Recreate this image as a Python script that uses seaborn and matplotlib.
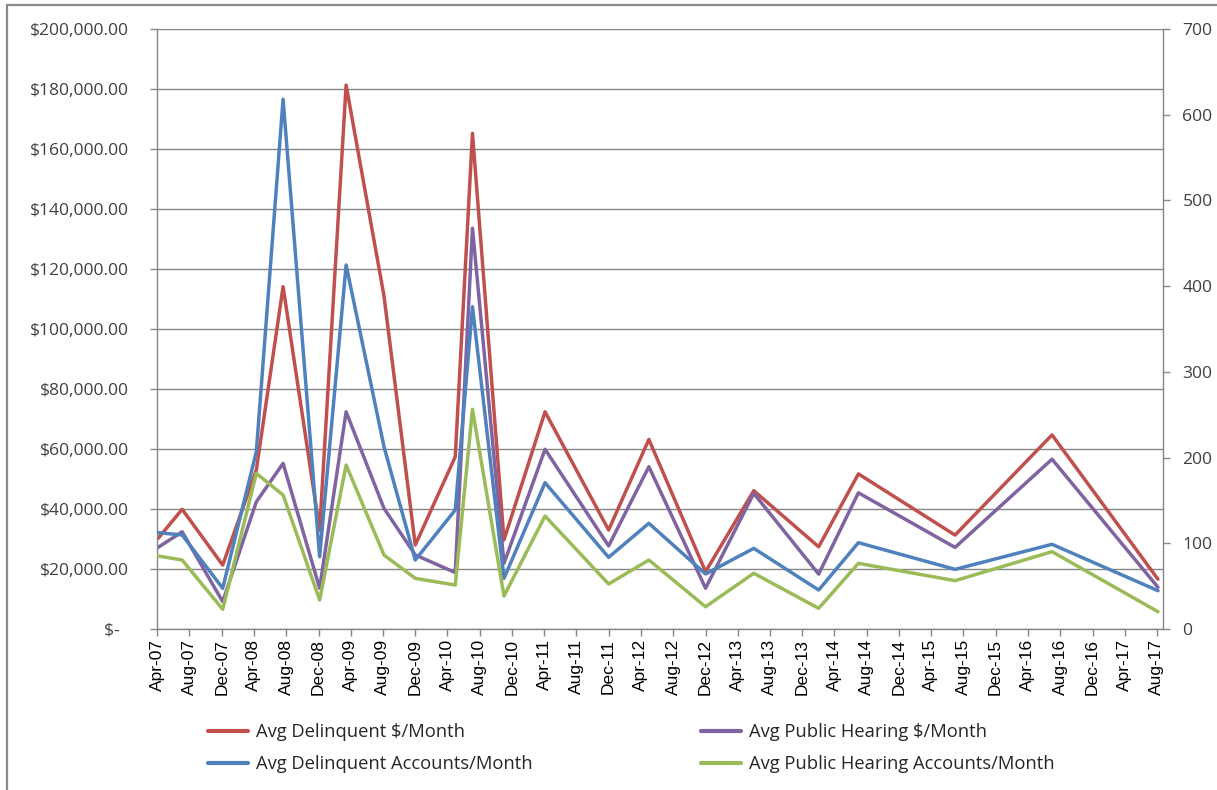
import pandas as pd
import seaborn as sns
import matplotlib.pyplot as plt
import matplotlib.dates as mdates
from matplotlib.ticker import FuncFormatter, MultipleLocator
from matplotlib.lines import Line2D

# --- data ---
dates_str = ["2007-04-05", "2007-07-05", "2007-12-05", "2008-04-10", "2008-07-20",
             "2008-12-05", "2009-03-15", "2009-08-05", "2009-12-01", "2010-05-01",
             "2010-07-05", "2010-11-01", "2011-04-05", "2011-12-01", "2012-05-01",
             "2012-12-01", "2013-06-01", "2014-02-01", "2014-07-01", "2015-07-01",
             "2016-07-01", "2017-08-05"]

# left axis ($)
delinquent_dollars = [30200, 39900, 21300, 53000, 114100, 33000, 181300,
                      111000, 28000, 57400, 165200, 29700, 72400, 33000,
                      63200, 19100, 46100, 27400, 51700, 31300, 64700, 16600]
hearing_dollars = [27200, 32400, 9100, 42400, 55200, 13600, 72400, 40200,
                   24700, 18800, 133600, 21900, 59900, 27700, 54100, 13600,
                   45200, 18300, 45400, 27200, 56600, 13900]

# right axis (accounts)
delinquent_accounts = [112.4, 109.7, 47.5, 206.8, 618, 84.4, 424.7, 212.7,
                       80.5, 138.8, 376, 59.1, 170.7, 83.6, 123.3, 64.2, 94.1,
                       45.5, 100.7, 69.6, 98.8, 44.7]
hearing_accounts = [85.2, 80.5, 23.0, 181.6, 156.3, 33.8, 191.3, 86.3, 59.1,
                    51.3, 256.3, 38.5, 131.8, 52.5, 80.5, 26.0, 65.0, 24.1,
                    76.6, 56.4, 90.2, 20.2]

labels = ["Avg Delinquent $/Month", "Avg Public Hearing $/Month",
          "Avg Delinquent Accounts/Month", "Avg Public Hearing Accounts/Month"]
colors = ["#C0504D", "#8064A2", "#4F81BD", "#9BBB59"]

dates = pd.to_datetime(dates_str)

sns.set_theme(style="white")
plt.rcParams['font.family'] = ['Open Sans', 'DejaVu Sans']

GRAY = "#868686"
TXT = "#404040"
LW = 2.5

fig = plt.figure(figsize=(12.17, 7.90), dpi=100)
ax = fig.add_axes([157 / 1217, 1 - 629 / 790, (1163 - 157) / 1217, 600 / 790])
ax2 = ax.twinx()

sns.lineplot(x=dates, y=delinquent_dollars, ax=ax, color=colors[0], linewidth=LW, label=labels[0], legend=False)
sns.lineplot(x=dates, y=hearing_dollars, ax=ax, color=colors[1], linewidth=LW, label=labels[1], legend=False)
sns.lineplot(x=dates, y=delinquent_accounts, ax=ax2, color=colors[2], linewidth=LW, label=labels[2], legend=False)
sns.lineplot(x=dates, y=hearing_accounts, ax=ax2, color=colors[3], linewidth=LW, label=labels[3], legend=False)

# x axis: Excel-style date axis, tick every 4 months
ax.set_xlim(pd.Timestamp("2007-04-01"), pd.Timestamp("2017-08-24"))
ax.xaxis.set_major_locator(mdates.MonthLocator(bymonth=[4, 8, 12], bymonthday=1))
ax.xaxis.set_major_formatter(mdates.DateFormatter("%b-%y"))
ax.set_xlabel("")
ax.set_ylabel("")
ax2.set_ylabel("")
for lab in ax.get_xticklabels():
    lab.set_rotation(90)
    lab.set_family(['Liberation Sans', 'DejaVu Sans'])
    lab.set_fontsize(12.5)
    lab.set_color("black")

# left axis
ax.set_ylim(0, 200000)
ax.yaxis.set_major_locator(MultipleLocator(20000))
ax.yaxis.set_major_formatter(FuncFormatter(
    lambda v, p: "$-  " if v == 0 else f"${v:,.2f}"))
ax.grid(axis="y", color=GRAY, linewidth=1)
ax.grid(axis="x", visible=False)

# right axis
ax2.set_ylim(0, 700)
ax2.yaxis.set_major_locator(MultipleLocator(100))
ax2.grid(False)

ax.tick_params(axis="y", direction="out", length=5, width=1, color=GRAY,
               labelsize=12.6, labelcolor=TXT, pad=15, left=True)
ax.tick_params(axis="x", direction="out", length=5, width=1, color=GRAY,
               pad=2, bottom=True)
ax2.tick_params(axis="y", direction="out", length=5, width=1, color=GRAY,
                labelsize=12.6, labelcolor=TXT, pad=9, right=True)

for a in (ax, ax2):
    a.spines["top"].set_visible(False)
    for s in ("left", "right", "bottom"):
        a.spines[s].set_color(GRAY)
        a.spines[s].set_linewidth(1)
ax.spines["right"].set_visible(False)
ax2.spines["left"].set_visible(False)
ax2.spines["bottom"].set_visible(False)

# legend below the plot, two columns
h1, l1 = ax.get_legend_handles_labels()
h2, l2 = ax2.get_legend_handles_labels()
handles = [h1[0], h2[0], h1[1], h2[1]]
names = [l1[0], l2[0], l1[1], l2[1]]
leg = fig.legend(handles, names, ncol=2, frameon=False,
                 loc="upper left", bbox_to_anchor=(208 / 1217, 1 - 723 / 790),
                 fontsize=13.2, handlelength=2.2, handletextpad=0.4,
                 columnspacing=9.2, labelspacing=0.77, borderpad=0, borderaxespad=0)
for line in leg.get_lines():
    line.set_linewidth(3)

# chart frame (top and left edge visible in the reference)
fig.add_artist(Line2D([7 / 1217, 7 / 1217], [0, 1 - 5 / 790], color="#8a8a8a", linewidth=1.6))
fig.add_artist(Line2D([7 / 1217, 1], [1 - 5 / 790, 1 - 5 / 790], color="#8a8a8a", linewidth=1.6))

fig.savefig("out.png", dpi=100)
